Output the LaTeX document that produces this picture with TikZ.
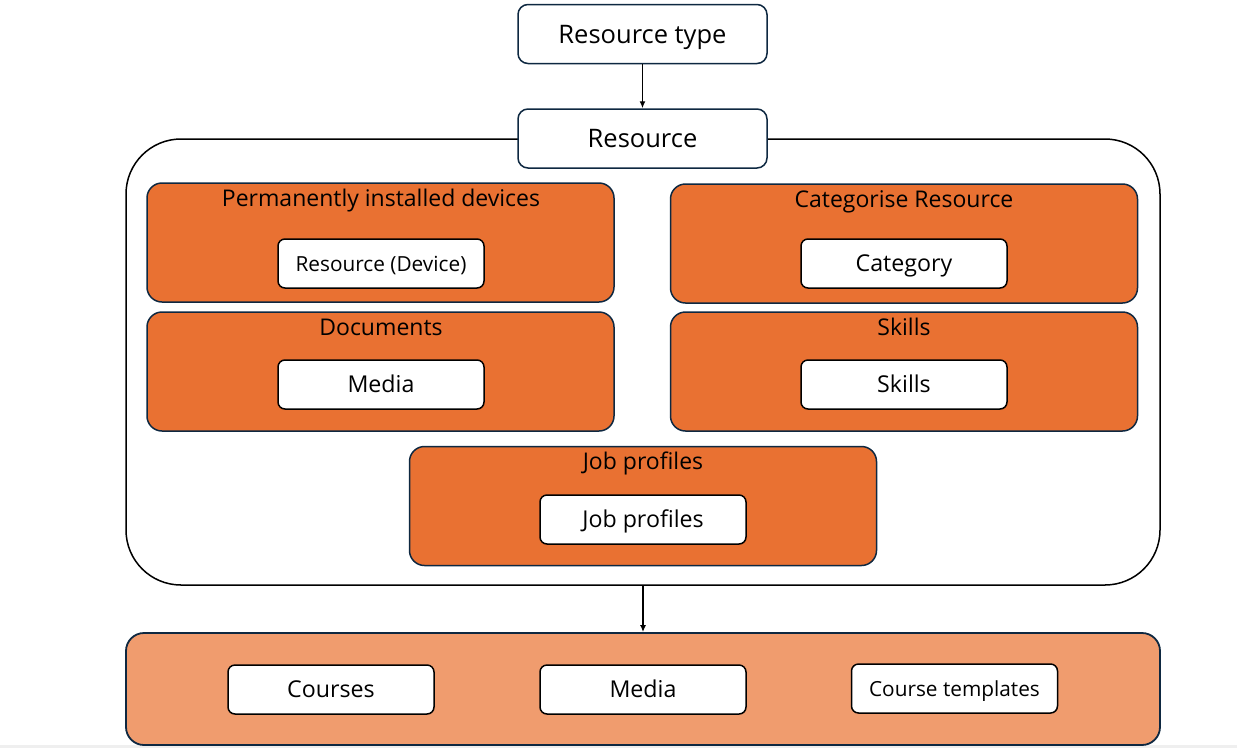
\documentclass[tikz,border=0pt]{standalone}
\usepackage{fontspec}
\setmainfont{Open Sans}
\usetikzlibrary{arrows.meta}
\definecolor{orng}{HTML}{E97132}
\definecolor{lorng}{HTML}{F09C6E}
\definecolor{navy}{HTML}{0E2841}
\definecolor{strip}{HTML}{EFEFEF}
\begin{document}
\begin{tikzpicture}[x=1pt,y=-1pt,
  topbox/.style={draw=navy, line width=1.5pt, fill=white, rounded corners=10pt, minimum width=249pt, minimum height=59pt, inner sep=0pt, font=\fontsize{25.5}{30}\selectfont, text height=18.4pt, text depth=0pt},
  cont/.style={draw=black, line width=1.5pt, rounded corners=55pt, minimum width=1034pt, minimum height=446pt, inner sep=0pt},
  obox/.style={draw=navy, line width=1.5pt, fill=orng, rounded corners=15pt, minimum width=467pt, minimum height=119pt, inner sep=0pt},
  botbox/.style={draw=navy, line width=1.8pt, fill=lorng, rounded corners=18pt, minimum width=1034pt, minimum height=112pt, inner sep=0pt},
  wbox/.style={draw=black, line width=1.5pt, fill=white, rounded corners=7pt, minimum width=206pt, minimum height=49pt, inner sep=0pt, font=\fontsize{23.2}{27}\selectfont, text height=16.7pt, text depth=0pt},
  small/.style={font=\fontsize{20.8}{25}\selectfont, text height=15pt},
  ttl/.style={inner sep=0pt, font=\fontsize{23}{27}\selectfont, text height=16.5pt, text depth=0pt},
  arr/.style={-{Latex[length=7pt,width=6pt]}, line width=1.5pt}
]
\useasboundingbox (0,0) rectangle (1237,748);
\fill[strip] (0,745) rectangle (1237,748);

\node[topbox] (rt) at (642.5,34) {Resource type};
\node[cont] (ct) at (643,362) {};
\node[topbox] (res) at (642.5,138.5) {Resource};
\draw[arr] (rt) -- (res);

\node[obox] (pid) at (380.5,242.5) {};
\node[ttl] (pidt) at (381,198) {Permanently installed devices};
\node[wbox,small] (dev) at (381,263.5) {Resource (Device)};

\node[obox] (cat) at (904,243.5) {};
\node[ttl] (catt) at (904,199) {Categorise Resource};
\node[wbox] (catg) at (904,263.5) {Category};

\node[obox] (doc) at (380.5,371.5) {};
\node[ttl] (doct) at (381,327) {Documents};
\node[wbox] (med) at (381,384.5) {Media};

\node[obox] (skl) at (904,371.5) {};
\node[ttl] (sklt) at (904,327) {Skills};
\node[wbox] (skli) at (904,384.5) {Skills};

\node[obox] (job) at (643,506) {};
\node[ttl] (jobt) at (643,461) {Job profiles};
\node[wbox] (jobi) at (643,519.5) {Job profiles};

\node[botbox] (bot) at (643,689) {};
\draw[arr] (ct.south) -- (bot.north);

\node[wbox] (crs) at (331,689.5) {Courses};
\node[wbox] (bmed) at (643,689.5) {Media};
\node[wbox,small] (ctp) at (954.5,688.5) {Course templates};
\end{tikzpicture}
\end{document}
